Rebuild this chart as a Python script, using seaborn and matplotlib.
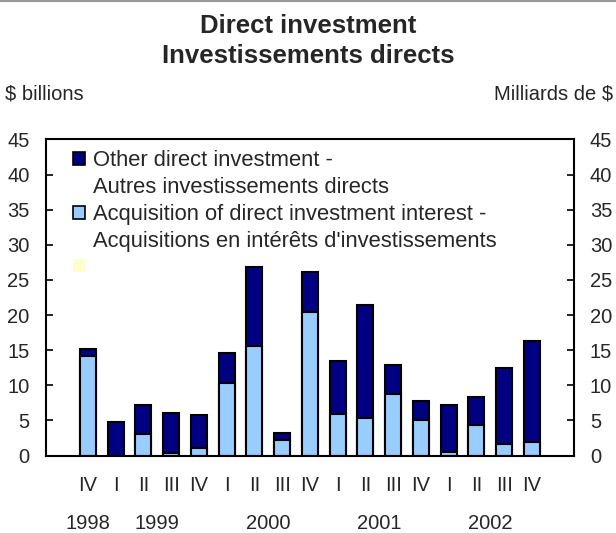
import numpy as np
import pandas as pd
import matplotlib
matplotlib.use("Agg")
import matplotlib.pyplot as plt
from matplotlib.patches import Patch
from matplotlib.lines import Line2D
import seaborn as sns

# quarterly data, $ billions
years = [1998, 1999, 1999, 1999, 1999, 2000, 2000, 2000, 2000,
         2001, 2001, 2001, 2001, 2002, 2002, 2002, 2002]
quarters = ["IV", "I", "II", "III", "IV", "I", "II", "III", "IV",
            "I", "II", "III", "IV", "I", "II", "III", "IV"]
acquisition = [14.1, 0.0, 3.1, 0.3, 1.1, 10.3, 15.6, 2.2, 20.5,
               5.9, 5.4, 8.7, 5.0, 0.5, 4.3, 1.7, 1.9]
other = [1.0, 4.8, 4.1, 5.8, 4.6, 4.3, 11.2, 1.0, 5.7,
         7.6, 16.0, 4.2, 2.7, 6.7, 4.1, 10.8, 14.4]

NAVY = "#000080"
LIGHT = "#99CCFF"

sns.set_theme(style="white")
plt.rcParams["font.family"] = ["Liberation Sans", "DejaVu Sans"]

df = pd.DataFrame({"year": years, "quarter": quarters,
                   "acquisition": acquisition, "other": other})
df["key"] = df["year"].astype(str) + " " + df["quarter"]
df["total"] = df["acquisition"] + df["other"]
order = list(df["key"])

fig = plt.figure(figsize=(6.16, 5.33), dpi=100)
ax = fig.add_axes([0.0742, 0.1454, 0.8576, 0.5929])

sns.barplot(data=df, x="key", y="total", order=order, color=NAVY,
            saturation=1, width=0.58, edgecolor="black", linewidth=1.5, ax=ax)
sns.barplot(data=df, x="key", y="acquisition", order=order, color=LIGHT,
            saturation=1, width=0.58, edgecolor="black", linewidth=1.5, ax=ax)

ax.set_xlim(-1.52, len(df) - 1 + 1.52)
ax.set_ylim(0, 45)
ax.set_yticks(np.arange(0, 46, 5))
ax.set_xticks(range(len(df)))
ax.set_xticklabels(quarters)
ax.set_xlabel("")
ax.set_ylabel("")
ax.tick_params(axis="y", which="both", direction="in", length=5, width=1.2,
               left=True, right=True, labelleft=True, labelright=True,
               labelsize=14.5, pad=11.5, color="black")
ax.tick_params(axis="x", length=0, labelsize=14.5, pad=14.4)
for s in ax.spines.values():
    s.set_color("black")
    s.set_linewidth(1.5)

# year labels centred under their quarters
trans = ax.get_xaxis_transform()
for yr, idx in df.groupby("year").groups.items():
    ax.text(np.mean(idx), -0.231, str(yr), transform=trans,
            ha="center", va="baseline", fontsize=14.5)

handles = [Patch(facecolor=NAVY, edgecolor="black", linewidth=1.2),
           Patch(facecolor="none", edgecolor="none"),
           Patch(facecolor=LIGHT, edgecolor="black", linewidth=1.2),
           Patch(facecolor="none", edgecolor="none"),
           Patch(facecolor="#FFFFCC", edgecolor="none")]
labels = ["Other direct investment -",
          "Autres investissements directs",
          "Acquisition of direct investment interest -",
          "Acquisitions en intérêts d'investissements",
          ""]
ax.legend(handles, labels, loc="upper left", bbox_to_anchor=(0.035, 0.993),
          frameon=False, fontsize=15.8, handlelength=0.55, handleheight=0.55,
          handletextpad=0.36, labelspacing=0.26, borderaxespad=0)

fig.text(0.5, 0.9375, "Direct investment", ha="center", va="baseline",
         fontsize=18.5, fontweight="bold")
fig.text(0.5, 0.881, "Investissements directs", ha="center", va="baseline",
         fontsize=18.5, fontweight="bold")
fig.text(0.008, 0.8124, "$ billions", ha="left", va="baseline", fontsize=14.5)
fig.text(0.995, 0.8124, "Milliards de $", ha="right", va="baseline", fontsize=14.5)
fig.add_artist(Line2D([0, 1], [0.999, 0.999], color="#999999", linewidth=1.5))

fig.savefig("out.png", dpi=100)
